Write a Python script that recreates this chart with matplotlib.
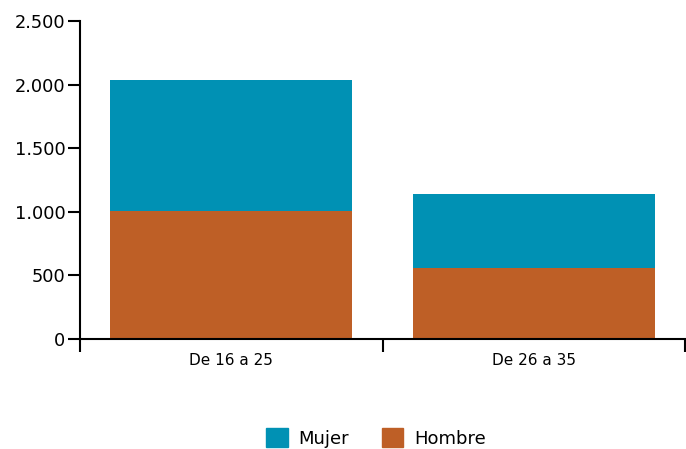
import matplotlib.pyplot as plt
from matplotlib.patches import Patch
from matplotlib.ticker import FuncFormatter

plt.rcParams['font.family'] = ['DejaVu Sans']

# data
categories = ['De 16 a 25', 'De 26 a 35']
hombre = [1005, 560]
mujer = [1035, 580]

colors = {'Mujer': '#0091B4', 'Hombre': '#BE5F26'}

fig = plt.figure(figsize=(6.86, 4.49), dpi=100)
ax = fig.add_axes([80 / 686, 1 - 339 / 449, 605 / 686, 318 / 449])

x = list(range(len(categories)))
ax.bar(x, hombre, width=0.8, color=colors['Hombre'])
ax.bar(x, mujer, width=0.8, bottom=hombre, color=colors['Mujer'])

ax.set_xlim(-0.5, len(categories) - 0.5)
ax.set_ylim(0, 2500)
ax.set_yticks(range(0, 2501, 500))
ax.yaxis.set_major_formatter(FuncFormatter(lambda v, p: f'{int(v):,}'.replace(',', '.')))

# band boundaries as major ticks, labels at band centres
ax.set_xticks([i - 0.5 for i in range(len(categories) + 1)])
ax.set_xticklabels([])
ax.set_xticks(x, minor=True)
ax.set_xticklabels(categories, minor=True, fontsize=11)
ax.tick_params(axis='x', which='major', length=9, width=1.5)
ax.tick_params(axis='x', which='minor', length=0, pad=10)
ax.tick_params(axis='y', length=9, width=1.5, labelsize=12.8, pad=1.5)

for s in ['top', 'right']:
    ax.spines[s].set_visible(False)
for s in ['left', 'bottom']:
    ax.spines[s].set_linewidth(1.5)

handles = [Patch(color=colors['Mujer'], label='Mujer'),
           Patch(color=colors['Hombre'], label='Hombre')]
fig.legend(handles=handles, loc='center', bbox_to_anchor=(376 / 686, 1 - 438 / 449),
           ncol=2, frameon=False, fontsize=13, handlelength=1.2, handleheight=1.2,
           handletextpad=0.6, columnspacing=1.8)

fig.savefig('out.png', dpi=100)
